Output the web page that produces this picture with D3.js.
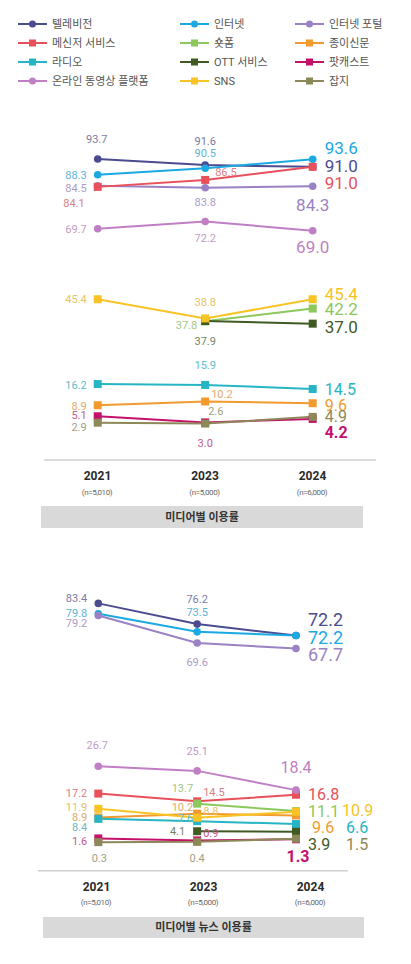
<!DOCTYPE html>
<html>
<head>
<meta charset="utf-8">
<script src="https://cdn.jsdelivr.net/npm/d3@7"></script>
<style>
  body { margin: 0; background: #fff; }
  svg { display: block; font-family: Roboto, "Noto Sans CJK KR", sans-serif; }
</style>
</head>
<body>
<svg id="chart" width="411" height="964"></svg>
<script>
// data
const years = ["2021", "2023", "2024"]
const samples = ["(n=5,010)", "(n=5,000)", "(n=6,000)"]
const seriesNames = ["텔레비전", "인터넷", "인터넷 포털", "메신저 서비스", "숏폼", "종이신문",
                     "라디오", "OTT 서비스", "팟캐스트", "온라인 동영상 플랫폼", "SNS", "잡지"]
const colors = ["#4b4b8f", "#1aa9e2", "#9a82c4", "#e8505a", "#8cc85c", "#f29a2e",
                "#26b5c5", "#3f5a22", "#c4126c", "#c07fc4", "#f7c325", "#8d8858"]
const shapes = ["circle", "circle", "circle", "square", "square", "square",
                "square", "square", "square", "circle", "square", "square"]

// 미디어별 이용률 (%)
const usageRate = [
  [93.7, 91.6, 91.0],
  [88.3, 90.5, 93.6],
  [84.5, 83.8, 84.3],
  [84.1, 86.5, 91.0],
  [null, 37.8, 42.2],
  [8.9, 10.2, 9.6],
  [16.2, 15.9, 14.5],
  [null, 37.9, 37.0],
  [5.1, 3.0, 4.2],
  [69.7, 72.2, 69.0],
  [45.4, 38.8, 45.4],
  [2.9, 2.6, 4.9]
]
// 미디어별 뉴스 이용률 (%)
const newsRate = [
  [83.4, 76.2, 72.2],
  [79.8, 73.5, 72.2],
  [79.2, 69.6, 67.7],
  [17.2, 14.5, 16.8],
  [null, 13.7, 11.1],
  [8.9, 10.2, 9.6],
  [8.4, 7.6, 6.6],
  [null, 4.1, 3.9],
  [1.6, 0.9, 1.3],
  [26.7, 25.1, 18.4],
  [11.9, 8.8, 10.9],
  [0.3, 0.4, 1.5]
]

// label placement (dx, dy, anchor) per series per year
const usageLabelPos = [
  [[-1, -20, "middle"], [0, -24, "middle"], [12, -1, "start"]],
  [[-11, 0, "end"], [0, -15, "middle"], [12, -11, "start"]],
  [[-11, 2, "end"], [0, 14, "middle"], [0, 19, "middle"]],
  [[-13, 16, "end"], [10, -8, "start"], [12, 16, "start"]],
  [null, [-8, 4, "end"], [12, 0, "start"]],
  [[-11, 1, "end"], [6, -7, "start"], [12, 2, "start"]],
  [[-11, 1, "end"], [0, -20, "middle"], [12, 0, "start"]],
  [null, [0, 20, "middle"], [12, 3, "start"]],
  [[-11, -1, "end"], [0, 21, "middle"], [12, 13, "start"]],
  [[-11, 0, "end"], [0, 17, "middle"], [0, 16, "middle"]],
  [[-11, 0, "end"], [0, -16, "middle"], [12, -5, "start"]],
  [[-11, 4, "end"], [3, -12, "start"], [12, 0, "start"]]
]
const newsLabelPos = [
  [[-11, -5, "end"], [0, -25, "middle"], [12, -16, "start"]],
  [[-11, -1, "end"], [0, -20, "middle"], [12, 2, "start"]],
  [[-11, 8, "end"], [0, 19, "middle"], [12, 6.5, "start"]],
  [[-11, 0, "end"], [6, -9, "start"], [12, 0, "start"]],
  [null, [-4, -15, "end"], [12, 0, "start"]],
  [[-11, 0, "end"], [-4, -7, "end"], [16, 12, "start"]],
  [[-11, 8, "end"], [-4, -3, "end"], [50, 3, "start"]],
  [null, [-12, 0, "end"], [12, 13, "start"]],
  [[-11, 3, "end"], [6, -7, "start"], [2, 17, "middle"]],
  [[-1, -21, "middle"], [0, -20, "middle"], [0, -23, "middle"]],
  [[-11, -1.5, "end"], [6, -7, "start"], [46, -1, "start"]],
  [[1, 16, "middle"], [0, 16, "middle"], [50, 6, "start"]]
]

const svg = d3.select("#chart")

// legend
const legend = svg.append("g")
const legendCols = [18, 180, 295]
const legendRows = [24, 43, 62, 81]
seriesNames.forEach((name, i) => {
  const g = legend.append("g")
    .attr("transform", `translate(${legendCols[i % 3]},${legendRows[Math.floor(i / 3)]})`)
  g.append("line").attr("x1", 0).attr("x2", 29)
    .attr("stroke", colors[i]).attr("stroke-width", 2)
  if (shapes[i] === "circle") {
    g.append("circle").attr("cx", 14.5).attr("r", 3.5).attr("fill", colors[i])
  } else {
    g.append("rect").attr("x", 11).attr("y", -3.5).attr("width", 7).attr("height", 7).attr("fill", colors[i])
  }
  g.append("text").attr("x", 34).attr("dy", "0.35em")
    .attr("font-size", 11).attr("fill", "#555").text(name)
})

function tint(c) {
  return d3.interpolateRgb(c, "#c4c4c4")(0.4)
}

function drawPanel(p) {
  const g = svg.append("g")
  const line = d3.line()
    .defined(d => d.v != null)
    .x(d => p.x(d.year))
    .y(d => p.y(d.v))

  const rows = p.values.map((vals, i) => ({
    i: i,
    pts: vals.map((v, j) => ({ year: years[j], v: v, j: j }))
  }))

  rows.forEach(r => {
    g.append("path")
      .datum(r.pts)
      .attr("fill", "none")
      .attr("stroke", colors[r.i])
      .attr("stroke-width", 2)
      .attr("d", line)
  })

  rows.forEach(r => {
    const pts = r.pts.filter(d => d.v != null)
    if (shapes[r.i] === "circle") {
      g.selectAll(null).data(pts).enter().append("circle")
        .attr("cx", d => p.x(d.year)).attr("cy", d => p.y(d.v))
        .attr("r", 3.8).attr("fill", colors[r.i])
    } else {
      g.selectAll(null).data(pts).enter().append("rect")
        .attr("x", d => p.x(d.year) - 4).attr("y", d => p.y(d.v) - 4)
        .attr("width", 8).attr("height", 8).attr("fill", colors[r.i])
    }
  })

  rows.forEach(r => {
    r.pts.forEach(d => {
      const pos = p.labelPos[r.i][d.j]
      if (d.v == null || !pos) return
      const isEnd = d.j === years.length - 1
      g.append("text")
        .attr("x", p.x(d.year) + pos[0])
        .attr("y", p.y(d.v) + pos[1])
        .attr("dy", "0.35em")
        .attr("text-anchor", pos[2])
        .attr("font-size", isEnd ? p.endSize(r.i) : 11)
        .attr("font-weight", isEnd && r.i === 8 ? 700 : 400)
        .attr("fill", isEnd ? colors[r.i] : tint(colors[r.i]))
        .text(d.v.toFixed(1))
    })
  })

  // baseline
  g.append("line")
    .attr("x1", p.axisX[0]).attr("x2", p.axisX[1])
    .attr("y1", p.axisY).attr("y2", p.axisY)
    .attr("stroke", "#cfcfcf").attr("stroke-width", 1.5)

  // year axis
  const ax = g.append("g")
    .attr("transform", `translate(0,${p.yearY - 6})`)
    .call(d3.axisBottom(p.xa).tickSize(0).tickPadding(0))
  ax.select(".domain").remove()
  ax.selectAll("text")
    .attr("font-size", 12).attr("font-weight", 700).attr("fill", "#2a2a2a")
    .attr("font-family", "Roboto, sans-serif")

  g.selectAll(null).data(samples).enter().append("text")
    .attr("x", (d, j) => p.xa(years[j]))
    .attr("y", p.nY).attr("dy", "0.35em")
    .attr("text-anchor", "middle")
    .attr("font-size", 8).attr("letter-spacing", -0.4).attr("fill", "#666")
    .text(d => d)

  // title box
  g.append("rect")
    .attr("x", p.box[0]).attr("y", p.box[1])
    .attr("width", p.box[2]).attr("height", p.box[3])
    .attr("fill", "#d9d9d9")
  g.append("text")
    .attr("x", p.box[0] + p.box[2] / 2).attr("y", p.box[1] + p.box[3] / 2)
    .attr("dy", "0.35em").attr("text-anchor", "middle")
    .attr("font-size", 11).attr("font-weight", 700).attr("fill", "#333")
    .text(p.title)
}

drawPanel({
  values: usageRate,
  labelPos: usageLabelPos,
  x: d3.scalePoint().domain(years).range([97.7, 312.7]),
  y: d3.scaleLinear().domain([0, 100]).range([431.1, 140.7]),
  xa: d3.scalePoint().domain(years).range([97, 312]),
  endSize: i => ([5, 6, 8, 11].includes(i) ? 16 : 17),
  axisX: [44, 376], axisY: 460, yearY: 477, nY: 492,
  box: [41, 506, 322, 22],
  title: "미디어별 이용률"
})

drawPanel({
  values: newsRate,
  labelPos: newsLabelPos,
  x: d3.scalePoint().domain(years).range([98.3, 296]),
  y: d3.scaleLinear().domain([0, 100]).range([843, 555.7]),
  xa: d3.scalePoint().domain(years).range([96, 310]),
  endSize: i => (i < 3 ? 18 : 16),
  axisX: [38, 348], axisY: 870.7, yearY: 888, nY: 902,
  box: [43, 917, 321, 21],
  title: "미디어별 뉴스 이용률"
})
</script>
</body>
</html>
